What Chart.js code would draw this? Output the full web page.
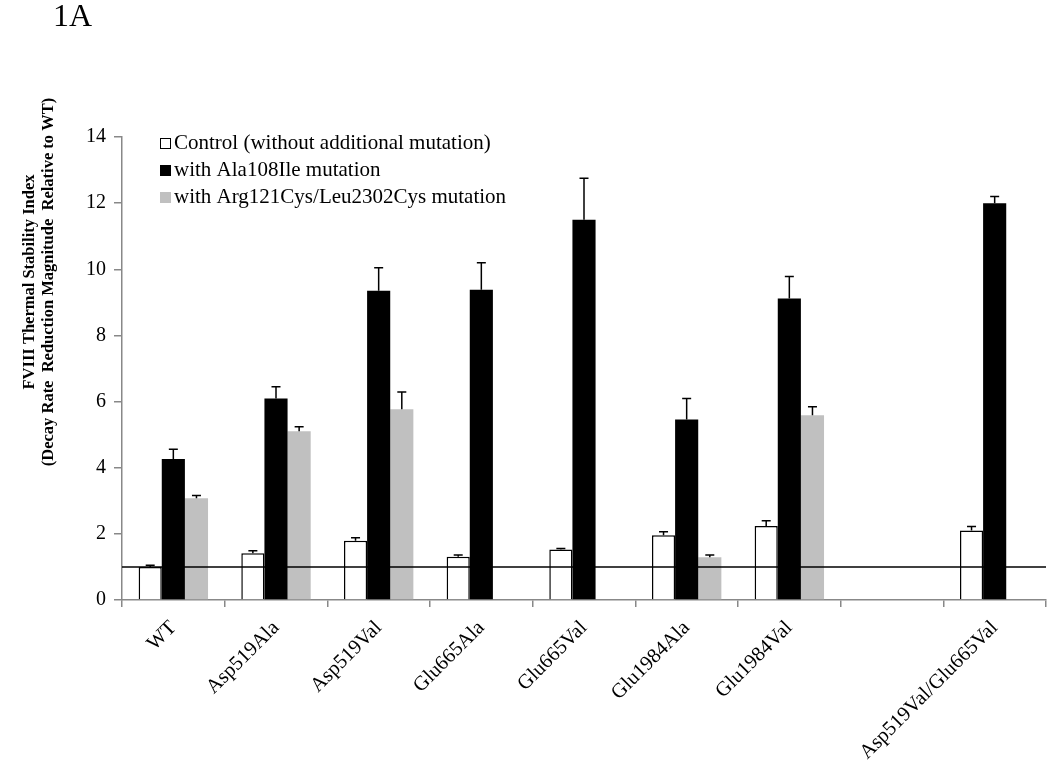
<!DOCTYPE html>
<html lang="en">
<head>
    <meta charset="UTF-8">
    <title>FVIII Thermal Stability Index</title>
    <script src="https://cdn.jsdelivr.net/npm/chart.js@4.4.1/dist/chart.umd.min.js"></script>
    <style>
        body { margin: 0; background: #fff; }
        #wrap { width: 1050px; height: 762px; position: relative; }
    </style>
</head>
<body>
    <div id="wrap"><canvas id="chart"></canvas></div>

    <script>
        // data
        const categories = ['WT', 'Asp519Ala', 'Asp519Val', 'Glu665Ala', 'Glu665Val', 'Glu1984Ala', 'Glu1984Val', '', 'Asp519Val/Glu665Val'];
        const seriesNames = ['Control (without additional mutation)', 'with Ala108Ile mutation', 'with Arg121Cys/Leu2302Cys mutation'];

        const controlValues = [1.00, 1.41, 1.79, 1.31, 1.53, 1.96, 2.24, null, 2.10];
        const ala108Values  = [4.26, 6.09, 9.35, 9.38, 11.50, 5.46, 9.12, null, 12.00];
        const arg121Values  = [3.08, 5.10, 5.77, null, null, 1.29, 5.59, null, null];

        // upper error (SD) for each bar
        const controlErr = [0.05, 0.08, 0.09, 0.05, 0.03, 0.10, 0.16, null, 0.12];
        const ala108Err  = [0.30, 0.36, 0.70, 0.82, 1.25, 0.63, 0.66, null, 0.20];
        const arg121Err  = [0.08, 0.14, 0.52, null, null, 0.07, 0.25, null, null];

        const yTicks = [0, 2, 4, 6, 8, 10, 12, 14];
        const wtLevel = 1;
        const yTitle = ['FVIII Thermal Stability Index', '(Decay Rate  Reduction Magnitude  Relative to WT)'];

        const serif = '"Liberation Serif", "Times New Roman", serif';

        // error bars (upper only)
        const errorBars = {
            id: 'errorBars',
            afterDatasetsDraw(chart) {
                const ctx = chart.ctx;
                const y = chart.scales.y;
                ctx.save();
                ctx.strokeStyle = '#000';
                ctx.lineWidth = 1.5;
                chart.data.datasets.forEach((ds, di) => {
                    const meta = chart.getDatasetMeta(di);
                    ds.errors.forEach((e, i) => {
                        const v = ds.data[i];
                        if (v == null || e == null) return;
                        const bar = meta.data[i];
                        const top = y.getPixelForValue(v + e);
                        ctx.beginPath();
                        ctx.moveTo(bar.x, bar.y);
                        ctx.lineTo(bar.x, top);
                        ctx.moveTo(bar.x - 4.5, top);
                        ctx.lineTo(bar.x + 4.5, top);
                        ctx.stroke();
                    });
                });
                ctx.restore();
            }
        };

        // horizontal line at WT level, legend, axis title and panel letter
        const extras = {
            id: 'extras',
            afterDatasetsDraw(chart) {
                const ctx = chart.ctx;
                const area = chart.chartArea;
                const yy = chart.scales.y.getPixelForValue(wtLevel);
                ctx.save();
                ctx.strokeStyle = '#000';
                ctx.lineWidth = 1.5;
                ctx.beginPath();
                ctx.moveTo(area.left, yy);
                ctx.lineTo(area.right, yy);
                ctx.stroke();

                // legend
                ctx.font = '21px ' + serif;
                ctx.textBaseline = 'middle';
                chart.data.datasets.forEach((ds, i) => {
                    const cy = 143 + i * 27;
                    ctx.fillStyle = ds.backgroundColor;
                    ctx.fillRect(160, cy - 5, 11, 11);
                    if (i === 0) {
                        ctx.lineWidth = 1;
                        ctx.strokeStyle = '#000';
                        ctx.strokeRect(160.5, cy - 4.5, 10, 10);
                    }
                    ctx.fillStyle = '#000';
                    ctx.fillText(ds.label, 174, cy);
                });

                // y axis title (two lines)
                ctx.font = 'bold 16.5px ' + serif;
                ctx.textAlign = 'center';
                yTitle.forEach((line, i) => {
                    ctx.save();
                    ctx.translate(30 + i * 19, 282);
                    ctx.rotate(-Math.PI / 2);
                    ctx.fillText(line, 0, 0);
                    ctx.restore();
                });

                ctx.textAlign = 'left';
                ctx.font = '32px ' + serif;
                ctx.textBaseline = 'alphabetic';
                ctx.fillText('1A', 53, 26);
                ctx.restore();
            }
        };

        const ctx = document.getElementById('chart').getContext('2d');
        new Chart(ctx, {
            type: 'bar',
            data: {
                labels: categories,
                datasets: [
                    { label: seriesNames[0], data: controlValues, errors: controlErr, backgroundColor: '#ffffff', borderColor: '#000', borderWidth: 1.5 },
                    { label: seriesNames[1], data: ala108Values, errors: ala108Err, backgroundColor: '#000000', borderWidth: 0 },
                    { label: seriesNames[2], data: arg121Values, errors: arg121Err, backgroundColor: '#c0c0c0', borderWidth: 0 }
                ]
            },
            options: {
                responsive: true,
                maintainAspectRatio: false,
                animation: false,
                categoryPercentage: 0.676,
                barPercentage: 1.0,
                layout: { padding: { left: 0, top: 137, right: 4, bottom: 0 } },
                plugins: {
                    legend: { display: false },
                    tooltip: { enabled: false }
                },
                scales: {
                    x: {
                        grid: { display: true, drawOnChartArea: false, offset: true, color: '#888', tickLength: 7, lineWidth: 1.5 },
                        border: { color: '#888', width: 1.5 },
                        ticks: { color: '#000', font: { family: serif, size: 20.5 }, minRotation: 45, maxRotation: 45, autoSkip: false, padding: 9 },
                        afterFit(scale) { scale.height = 162; }
                    },
                    y: {
                        min: 0,
                        max: 14,
                        afterBuildTicks(scale) { scale.ticks = yTicks.map(v => ({ value: v })); },
                        grid: { display: true, drawOnChartArea: false, color: '#888', tickLength: 8, lineWidth: 1.5 },
                        border: { color: '#888', width: 1.5 },
                        ticks: { color: '#000', font: { family: serif, size: 20 }, padding: 8 },
                        afterFit(scale) { scale.width = 122; }
                    }
                }
            },
            plugins: [errorBars, extras]
        });
    </script>
</body>
</html>
